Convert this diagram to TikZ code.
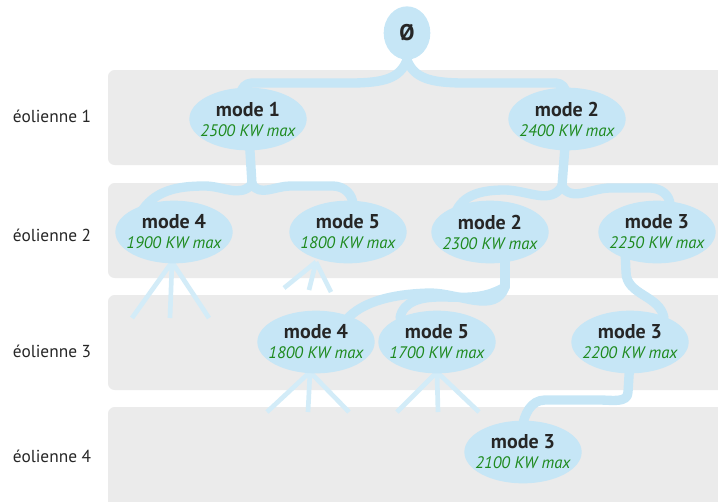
\documentclass[tikz,border=0pt]{standalone}
\usepackage{fontspec}
\setmainfont{PT Sans}
\usetikzlibrary{shapes.geometric}
\definecolor{bandgray}{HTML}{EBEBEB}
\definecolor{lblue}{HTML}{C6E6F6}
\definecolor{fanblue}{HTML}{D3ECF8}
\definecolor{mgreen}{HTML}{1E8A1E}
\definecolor{dtext}{HTML}{262626}
\tikzset{
  band/.style={fill=bandgray, draw=none, rounded corners=5pt},
  st/.style={ellipse, fill=lblue, draw=none, minimum width=88pt, minimum height=47pt, inner sep=0pt},
  sttext/.style={align=center, text=dtext, font=\fontsize{15}{15}\selectfont\bfseries, inner sep=0pt},
  rootst/.style={ellipse, fill=lblue, draw=none, minimum width=35pt, minimum height=40pt, inner sep=0pt, text=dtext, font=\fontsize{17}{17}\selectfont\bfseries},
  conn/.style={draw=lblue, line width=7pt, line cap=round, line join=round},
  fan/.style={draw=fanblue, line width=3.5pt},
  lab/.style={text=dtext, font=\fontsize{13}{13}\selectfont}
}
\newcommand{\kw}[1]{\\[0pt]{\fontsize{12.5}{12.5}\selectfont\mdseries\itshape\color{mgreen}#1 KW max}}
\begin{document}
\begin{tikzpicture}[x=0.75pt,y=-0.75pt]
\useasboundingbox (0,0) rectangle (718,501);
% bands
\fill[band] (108,70) rectangle (740,165);
\fill[band] (108,183) rectangle (740,278);
\fill[band] (108,295) rectangle (740,390);
\fill[band] (108,407) rectangle (740,510);
% row labels
\node[lab] (l1) at (52,116) {éolienne 1};
\node[lab] (l2) at (52,235) {éolienne 2};
\node[lab] (l3) at (52,351) {éolienne 3};
\node[lab] (l4) at (52,456) {éolienne 4};
% coordinates for nodes
\coordinate (p0) at (407,33);
\coordinate (p11) at (248,119);
\coordinate (p12) at (567,119);
\coordinate (p24) at (174,232);
\coordinate (p25) at (348,232);
\coordinate (p22) at (490,232);
\coordinate (p23) at (657,232);
\coordinate (p34) at (316,342);
\coordinate (p35) at (437,342);
\coordinate (p33) at (630,342);
\coordinate (p43) at (523,452);
% fan (pruned) lines
\coordinate (f24) at (172,262);
\coordinate (f25) at (316,262);
\coordinate (f34) at (310,372);
\coordinate (f35) at (437,372);
\coordinate (g1) at (132,318); \coordinate (g2) at (170,318); \coordinate (g3) at (209,318);
\coordinate (h1) at (284,288); \coordinate (h2) at (309,290); \coordinate (h3) at (331,292);
\coordinate (k1) at (267,412); \coordinate (k2) at (308,412); \coordinate (k3) at (349,412);
\coordinate (m1) at (397,412); \coordinate (m2) at (438,412); \coordinate (m3) at (479,412);
\draw[fan] (f24) -- (g1) (f24) -- (g2) (f24) -- (g3);
\draw[fan] (f25) -- (h1) (f25) -- (h2) (f25) -- (h3);
\draw[fan] (f34) -- (k1) (f34) -- (k2) (f34) -- (k3);
\draw[fan] (f35) -- (m1) (f35) -- (m2) (f35) -- (m3);
% junctions
\coordinate (j0) at (407,60);
\coordinate (j1) at (252,184);
\coordinate (j2) at (562,186);
\coordinate (j3) at (505,287);
\coordinate (j4) at (628,392);
% connectors
\draw[conn] (j0) .. controls (400,78) and (385,83) .. (350,83) -- (252,83) to[out=180,in=90] (241,94);
\draw[conn] (j0) .. controls (414,78) and (430,83) .. (465,83) -- (556,83) to[out=0,in=90] (566,94);
\draw[conn] (p11) -- (j1);
\draw[conn] (j1) to[out=-130,in=0] (205,186) to[out=180,in=60] (140,214);
\draw[conn] (j1) to[out=-60,in=180] (290,186) -- (333,186) to[out=0,in=90] (353,205);
\draw[conn] (p12) -- (j2);
\draw[conn] (j2) to[out=-120,in=0] (505,190) to[out=180,in=70] (455,214);
\draw[conn] (j2) to[out=-60,in=180] (610,188) -- (650,188) to[out=0,in=90] (670,205);
\draw[conn] (505,250) -- (j3);
\draw[conn] (j3) to[out=-110,in=0] (430,293) .. controls (385,294) and (360,305) .. (348,318);
\draw[conn] (j3) to[out=-150,in=0] (440,297) to[out=180,in=80] (400,318);
\draw[conn] (625,250) -- (626,272) to[out=-90,in=100] (664,318);
\draw[conn] (630,360) -- (j4) to[out=-90,in=0] (600,400) -- (545,400) to[out=180,in=80] (522,428);
% nodes
\node[rootst] (root) at (p0) {Ø};
\node[st, label={[sttext]center:mode 1\kw{2500}}] (e1m1) at (p11) {};
\node[st, label={[sttext]center:mode 2\kw{2400}}] (e1m2) at (p12) {};
\node[st, label={[sttext]center:mode 4\kw{1900}}] (e2m4) at (p24) {};
\node[st, label={[sttext]center:mode 5\kw{1800}}] (e2m5) at (p25) {};
\node[st, label={[sttext]center:mode 2\kw{2300}}] (e2m2) at (p22) {};
\node[st, label={[sttext]center:mode 3\kw{2250}}] (e2m3) at (p23) {};
\node[st, label={[sttext]center:mode 4\kw{1800}}] (e3m4) at (p34) {};
\node[st, label={[sttext]center:mode 5\kw{1700}}] (e3m5) at (p35) {};
\node[st, label={[sttext]center:mode 3\kw{2200}}] (e3m3) at (p33) {};
\node[st, label={[sttext]center:mode 3\kw{2100}}] (e4m3) at (p43) {};
\end{tikzpicture}
\end{document}
